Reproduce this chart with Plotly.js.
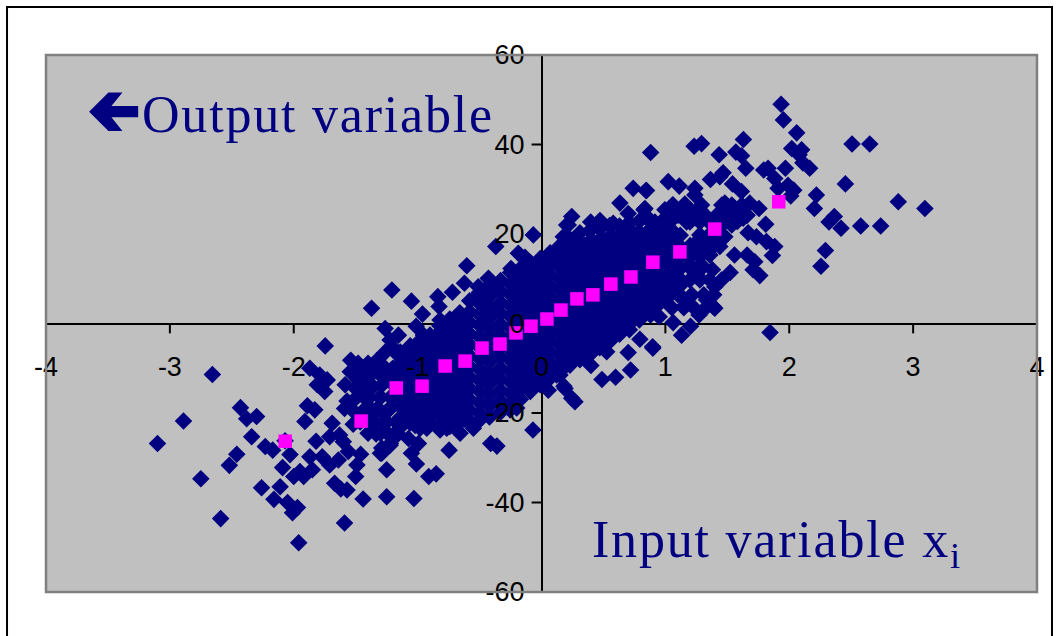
<!DOCTYPE html>
<html><head><meta charset="utf-8">
<script src="https://cdn.plot.ly/plotly-3.0.1.min.js"></script>
<style>
html,body{margin:0;padding:0;background:#fff}
#chart{width:1058px;height:636px}
.annotation-text{letter-spacing:1.8px}
</style></head><body><div id="chart"></div>
<script>
const xTicks=[-4,-3,-2,-1,0,1,2,3,4];
const yTicks=[-60,-40,-20,0,20,40,60];
const meanX=[-2.069,-1.456,-1.173,-0.964,-0.778,-0.617,-0.48,-0.335,-0.206,-0.085,0.044,0.157,0.286,0.415,0.56,0.722,0.899,1.117,1.399,1.915];
const meanY=[-26.3,-21.8,-14.4,-14,-9.5,-8.4,-5.5,-4.6,-2.1,-0.6,1,3,5.5,6.4,8.8,10.4,13.7,16,21.1,27.2];
const lowerTailPairs=[[-2.657,-11.4],[-1.746,-5],[-2.89,-21.8],[-3.1,-26.8],[-2.43,-18.8],[-2.3,-20.8],[-2.38,-21.3],[-2.34,-25.3],[-2.46,-29.2],[-2.52,-31.7],[-2.75,-34.7],[-2.59,-43.6],[-2.26,-36.7],[-2.23,-27.5],[-2.17,-28.3],[-2.07,-26.2],[-2.03,-29.3],[-2.09,-32.2],[-2.11,-36.5],[-2.16,-39.3],[-2.05,-40],[-1.97,-41.1],[-2.01,-42.3],[-1.96,-49],[-2,-34.2],[-1.92,-34.2],[-1.95,-33.1],[-1.85,-32.7],[-1.91,-21.9],[-1.89,-18.4],[-1.83,-19.3],[-1.82,-26.3],[-1.87,-29.8],[-1.77,-29.8],[-1.71,-31.6],[-1.64,-30.5],[-1.87,-10],[-1.79,-11.5],[-1.73,-12.6],[-1.81,-13.7],[-1.75,-15.2],[-1.67,-35.7],[-1.57,-37.2],[-1.62,-37],[-1.44,-39.2],[-1.25,-38.7],[-1.25,-32.7],[-1.59,-44.6],[-1.5,-34.2],[-1.49,-31.6],[-1.46,-29.2],[-1.56,-28.6],[-1.3,-29],[-1.22,-26.8],[-1.29,-27.8],[-1.69,-22.3],[-1.63,-24.9],[-1.71,-25.3],[-1.6,-26.4],[-1.57,-17.3],[-1.59,-19],[-1.54,-8.2],[-1.48,-8.9],[-1.4,-8.9],[-1.33,-8.3],[-1.26,-10],[-1.48,-12.6],[-1.4,-11.1],[-1.3,-11.5],[-1.36,-14.1],[-1.41,-17.1],[-1.3,-16.4],[-1.22,-13],[-1.2,-10],[-1.5,-14.5],[-1.45,-15.5],[-1.38,-19],[-1.3,-19.5],[-1.22,-19],[-1.25,-22],[-1.35,-22],[-1.45,-20.5],[-1.52,-22.5],[-1.4,-24.5],[-1.3,-24.5],[-1.2,-25],[-1.22,-16.5],[-1.03,-39.1],[-0.85,-33.6],[-0.91,-34.2],[-1.01,-31.4],[-1.05,-29],[-0.746,-28.3],[-0.41,-26.8],[-0.36,-27.4],[-0.069,-23.8],[-0.254,-19.3],[-0.2,-18.9],[-0.55,-23.4],[-0.657,-24.5],[-0.765,-23.4],[-0.819,-23.8],[-0.926,-23.4],[-0.993,-26.8],[-1.074,-25.7],[-1.222,-27.2],[-1.289,-29]];
const leftFillPairs=[[-1.544,-10.8],[-1.448,-10.8],[-1.351,-10.8],[-1.254,-10.8],[-1.174,-10.8],[-1.585,-13.7],[-1.48,-13.7],[-1.383,-13.7],[-1.286,-13.7],[-1.19,-13.7],[-1.496,-16.6],[-1.399,-16.6],[-1.302,-16.6],[-1.206,-16.6],[-1.528,-19.3],[-1.431,-19.3],[-1.335,-19.3],[-1.238,-19.3],[-1.464,-22],[-1.367,-22],[-1.27,-22],[-1.173,-22],[-1.335,-24.7],[-1.238,-24.7],[-1.157,-24.7],[-1.181,-6.4],[-1.262,-6.4]];
const upperLeftPairs=[[-0.603,12.9],[-0.622,9],[-1.208,7.5],[-1.372,3.4],[-1.05,5],[-0.719,7],[-0.837,6],[-0.827,3.8],[-0.961,2.1],[-0.819,0.8],[-1.012,-0.6],[-1.262,-1.1],[-1.155,-2.6],[-1.222,-3.7],[-0.953,-2.6],[-0.899,-4.1],[-1.195,-5.5],[-1.087,-5.9],[-0.51,8.2],[-0.429,10.1],[-0.523,6],[-0.644,1.9],[-0.066,19.8],[-0.369,17.2],[-0.187,15.7],[-0.133,14.8],[-0.246,12.3],[-0.423,9.9],[0.176,19.4],[0.216,22],[0.74,30.2],[0.843,29.7],[0.633,26.9],[0.7,24.6],[0.244,23.9],[0.203,22],[0.397,22.7],[0.472,23],[0.579,22.4],[0.827,25.4],[0.861,23.5],[1.063,26.5],[1.157,26.7],[1.01,23.9],[0.149,15.3],[0.055,13.8]];
const lowerRightPairs=[[0.899,-5.5],[0.794,-3.5],[0.7,-6.5],[0.399,-9.4],[0.719,-10.4],[0.598,-12],[0.488,-12.5],[0.526,-6.3],[0.149,-11.5],[0.19,-14.5],[0.244,-16.7],[0.181,-14],[0.27,-17.5],[0.055,-14.9],[0.122,-11.5]];
const upperTailPairs=[[1.934,49],[1.953,45.5],[2.06,42.6],[1.63,41.1],[2.02,39.1],[2.1,38.8],[2.08,37.7],[2.11,35.9],[2.165,34.7],[2.507,40.1],[2.65,40.1],[1.292,40.2],[1.232,39.6],[0.881,38.2],[1.434,37.7],[1.569,38.3],[1.615,37.5],[1.649,34.7],[1.794,34.3],[1.829,34.7],[1.969,34.7],[1.883,32.4],[1.466,33.7],[1.364,32.2],[1.44,32.8],[1.542,31.2],[1.99,30.9],[2.036,29.8],[1.91,30.2],[2.012,28.5],[2.453,31.2],[2.219,28.7],[2.203,25.7],[2.88,27.2],[3.095,25.7],[2.364,23.9],[2.321,22.7],[2.418,21.3],[2.577,21.8],[2.738,21.8],[1.81,22.2],[2.292,16.3],[2.256,12.8],[1.845,-2],[1.756,25.7],[1.681,26.9],[1.614,29.5],[1.628,23.5],[1.668,20.3],[1.735,19.4],[1.816,18.3],[1.883,17.2],[1.864,15.2],[1.558,15.3],[1.66,15.3],[1.722,13.8],[1.762,10.7],[1.708,12],[1.523,11.4],[1.399,8.2],[1.453,9.7],[1.023,31.7],[1.112,30.7],[0.848,29.7],[1.238,30.2],[1.292,26.5],[1.238,28.7],[1.058,26.5],[1.149,26.3],[1.01,23.5],[1.103,24.2],[0.835,25.7],[0.861,23.5],[1.171,22.7],[1.25,23.5],[1.332,23.9],[1.48,26.9],[1.55,26],[1.5,24.2],[1.58,22.8],[1.66,24.2],[1.44,24.8],[1.48,19.4],[1.44,17.2],[1.345,16.8],[1.305,12.7],[1.264,10.5],[1.399,3.4],[1.332,5.3],[1.272,1.9],[1.147,3.8],[1.203,-0.6],[1.131,-2.6],[1.063,0.2],[0.95,1.5],[0.897,-5.2],[1.386,3.8],[1.28,19],[1.36,20],[1.28,15],[1.38,12],[1.2,6],[1.1,6.5]];
const rightFillPairs=[[1.456,26.5],[1.536,26.5],[1.617,26.5],[1.415,24.2],[1.496,24.2],[1.577,24.2],[1.657,24.2],[1.375,22],[1.456,22],[1.536,22],[1.278,19.8],[1.359,19.8],[1.44,19.8],[1.238,17.5],[1.319,17.5],[1.399,17.5],[1.197,15.3],[1.278,15.3],[1.359,15.3],[1.197,13],[1.278,13],[1.197,9.7],[1.278,9.7],[1.359,9.7],[1.117,6.4],[1.214,6.4],[1.31,6.4],[1.39,6.4],[1.052,3.5],[1.149,3.5],[1.23,3.5],[1.326,3.5],[0.996,25.4],[1.077,25.4],[1.198,25.4],[1.278,25.4],[0.915,22.7],[1.036,22.7],[1.198,22.7],[1.278,22.7]];
const coreColumns=[
[-1.14,[-6.4,-8.9,-11.2,-13.8,-16.1,-18.6,-21,-23.2]],
[-1.06,[-5,-7.6,-10,-12.5,-15,-17.3,-19.8,-22.2]],
[-0.98,[-3.8,-6.3,-8.8,-11.2,-13.6,-16,-18.5,-21,-23.4]],
[-0.9,[-2.6,-5,-7.5,-10,-12.4,-14.8,-17.2,-19.7,-22.1]],
[-0.82,[-0.5,-3,-5.5,-8,-10.4,-12.9,-15.3,-17.8,-20.2,-22.7]],
[-0.74,[1,-1.6,-4,-6.5,-9,-11.4,-13.9,-16.3,-18.8,-21.2,-23]],
[-0.66,[2.4,0,-2.5,-5,-7.4,-9.9,-12.3,-14.8,-17.2,-19.7,-22.1]],
[-0.58,[5.1,2.6,0.2,-2.3,-4.7,-7.2,-9.6,-12,-14.5,-17,-19.4,-21.8]],
[-0.5,[7,4.5,2,-0.4,-2.9,-5.3,-7.8,-10.2,-12.7,-15.1,-17.6,-20,-21.6]],
[-0.42,[8.5,6.1,3.6,1.2,-1.3,-3.7,-6.2,-8.6,-11.1,-13.5,-16,-18.4,-20.9]],
[-0.33,[9.6,7.2,4.7,2.3,-0.2,-2.6,-5.1,-7.5,-10,-12.4,-14.9,-17.3,-19.8]],
[-0.25,[11.4,8.9,6.5,4,1.6,-0.9,-3.3,-5.8,-8.2,-10.7,-13.1,-15.6,-18]],
[-0.17,[12.3,9.9,7.4,5,2.5,0.1,-2.4,-4.8,-7.3,-9.7,-12.2,-14.6,-16.9]],
[-0.09,[13.6,11.1,8.7,6.2,3.8,1.3,-1.1,-3.6,-6,-8.5,-10.9,-13.4,-15.2]],
[-0.01,[14.5,12.1,9.6,7.2,4.7,2.3,-0.2,-2.6,-5.1,-7.5,-10,-12.4,-13.7]],
[0.07,[15.8,13.3,10.9,8.4,6,3.5,1.1,-1.4,-3.8,-6.3,-8.7,-11.2,-12.2]],
[0.15,[17.4,14.9,12.5,10,7.6,5.1,2.7,0.2,-2.2,-4.7,-7.1,-9.6,-10.7]],
[0.23,[18.9,16.4,14,11.5,9.1,6.6,4.2,1.7,-0.7,-3.2,-5.6,-8.1,-9.3]],
[0.31,[20.3,17.8,15.4,12.9,10.5,8,5.6,3.1,0.7,-1.8,-4.2,-6.7,-8.1]],
[0.39,[20.7,18.3,15.8,13.4,10.9,8.5,6,3.6,1.1,-1.3,-3.8,-6.2,-7]],
[0.47,[21.2,18.7,16.3,13.8,11.4,8.9,6.5,4,1.6,-0.9,-3.3,-5.4]],
[0.55,[21.9,19.4,17,14.5,12.1,9.6,7.2,4.7,2.3,-0.2,-2.6,-4]],
[0.63,[21.8,19.4,16.9,14.5,12,9.6,7.1,4.7,2.2,-0.2,-2.4]],
[0.71,[22.6,20.1,17.7,15.2,12.8,10.3,7.9,5.4,3,0.5,-1.4]],
[0.79,[22.9,20.4,18,15.5,13.1,10.6,8.2,5.7,3.3,0.8]],
[0.88,[22.6,20.2,17.7,15.3,12.8,10.4,7.9,5.5,3,1.9]],
[0.96,[21.9,19.4,17,14.5,12.1,9.6,7.2,4.7]],
[1.04,[21.2,18.7,16.3,13.8,11.4,8.9,6.4]],
[1.12,[19.7,17.2,14.8,12.3,9.9,8.5]],
[1.2,[17.4,14.9,12.4]]
];
const infillColumns=[
[0.27,[17,14.2,11.4,8.6,5.8,3,0.2,-2.6,-5.4]],
[0.35,[17.5,14.7,11.9,9.1,6.3,3.5,0.7,-2.1,-4.9]],
[0.43,[18,15.2,12.4,9.6,6.8,4,1.2,-1.6,-4.4]],
[0.51,[18.5,15.7,12.9,10.1,7.3,4.5,1.7,-1.1,-3.2]],
[0.59,[19,16.2,13.4,10.6,7.8,5,2.2,-0.6]],
[0.67,[19.5,16.7,13.9,11.1,8.3,5.5,2.7,0]],
[0.75,[20,17.2,14.4,11.6,8.8,6,3.2,1]],
[0.84,[20,17.2,14.4,11.6,8.8,6,3.5]],
[0.92,[20,17.2,14.4,11.6,8.8,6,3.8]],
[1,[20,17.2,14.4,11.6,8.8,6]],
[1.08,[19,16.2,13.4,10.6,7.8]],
[-1.1,[-7,-9.8,-12.6,-15.4,-18.2,-21]],
[-1.02,[-6,-8.8,-11.6,-14.4,-17.2,-20,-22.8]],
[-0.94,[-4.5,-7.3,-10.1,-12.9,-15.7,-18.5,-21.3]],
[-0.86,[-3,-5.8,-8.6,-11.4,-14.2,-17,-19.8]],
[-0.78,[-2,-4.8,-7.6,-10.4,-13.2,-16,-18.8,-21.6]],
[-0.7,[-0.5,-3.3,-6.1,-8.9,-11.7,-14.5,-17.3,-20.1]],
[-0.62,[1,-1.8,-4.6,-7.4,-10.2,-13,-15.8,-18.6,-21.4]]
];
const arrowX=[-3.652,-3.496,-3.383,-3.472,-3.256,-3.256,-3.472,-3.383,-3.496];
const arrowY=[47.3,51.6,51.6,48.6,48.6,46.1,46.1,43,43];

const NAVY='#000080';
const corePairs=[...coreColumns,...infillColumns].flatMap(([x,ys])=>ys.map(y=>[x,y]));
const allPairs=[...lowerTailPairs,...leftFillPairs,...upperLeftPairs,...corePairs,...lowerRightPairs,...upperTailPairs,...rightFillPairs];
const px=(p)=>(p-45.5)/991.5, py=(p)=>(592-p)/537;
const tickShapes=[
 ...xTicks.map(t=>({type:'line',xref:'x',yref:'y',layer:'below',x0:t,x1:t,y0:0,y1:-2.2,line:{color:'#000',width:2}})),
 ...yTicks.map(t=>({type:'line',xref:'x',yref:'y',layer:'below',x0:0,x1:-0.08,y0:t,y1:t,line:{color:'#000',width:2}}))
];
const arrowPath='M'+arrowX.map((x,i)=>x+','+arrowY[i]).join(' L')+' Z';
Plotly.newPlot('chart',[
 {type:'scatter',mode:'markers',x:allPairs.map(p=>p[0]),y:allPairs.map(p=>p[1]),marker:{symbol:'diamond',size:13.5,color:NAVY,line:{width:0}},hoverinfo:'skip',cliponaxis:false},
 {type:'scatter',mode:'markers',x:meanX,y:meanY,marker:{symbol:'square',size:13.5,color:'#FF00FF',line:{width:0}},hoverinfo:'skip',cliponaxis:false}
],{
 width:1058,height:636,showlegend:false,
 margin:{l:45.5,r:21,t:55,b:44,pad:0},
 paper_bgcolor:'#fff',plot_bgcolor:'#C0C0C0',
 xaxis:{range:[-4,4],tickvals:xTicks,ticktext:xTicks.map(String),anchor:'free',position:0.5,side:'bottom',showgrid:false,zeroline:true,zerolinecolor:'#000',zerolinewidth:2,showline:false,ticks:'',ticklabelstandoff:24,tickfont:{family:'Liberation Sans',size:27,color:'#000'},tickangle:0,fixedrange:true},
 yaxis:{range:[-60,60],tickvals:yTicks,ticktext:yTicks.map(String),anchor:'free',position:0.5,side:'left',showgrid:false,zeroline:true,zerolinecolor:'#000',zerolinewidth:2,showline:false,ticks:'',ticklabelstandoff:17,tickfont:{family:'Liberation Sans',size:27,color:'#000'},fixedrange:true},
 shapes:[...tickShapes,
  {type:'path',xref:'x',yref:'y',layer:'above',path:arrowPath,fillcolor:NAVY,line:{width:0}},
  {type:'rect',xref:'paper',yref:'paper',layer:'above',x0:0,x1:1,y0:0,y1:1,line:{color:'#808080',width:2.5},fillcolor:'rgba(0,0,0,0)'},
  {type:'rect',xref:'paper',yref:'paper',layer:'above',x0:px(6.5),x1:px(1052),y0:py(645),y1:py(7),line:{color:'#000',width:2},fillcolor:'rgba(0,0,0,0)'}
 ],
 annotations:[
  {text:'Output variable',xref:'paper',yref:'paper',x:px(140),y:py(114),xanchor:'left',yanchor:'middle',showarrow:false,font:{family:'Liberation Serif',size:52,color:NAVY}},
  {text:'Input variable x<sub>i</sub>',xref:'paper',yref:'paper',x:px(590),y:py(543),xanchor:'left',yanchor:'middle',showarrow:false,font:{family:'Liberation Serif',size:52,color:NAVY}}
 ]
},{staticPlot:true,displayModeBar:false});
</script></body></html>
